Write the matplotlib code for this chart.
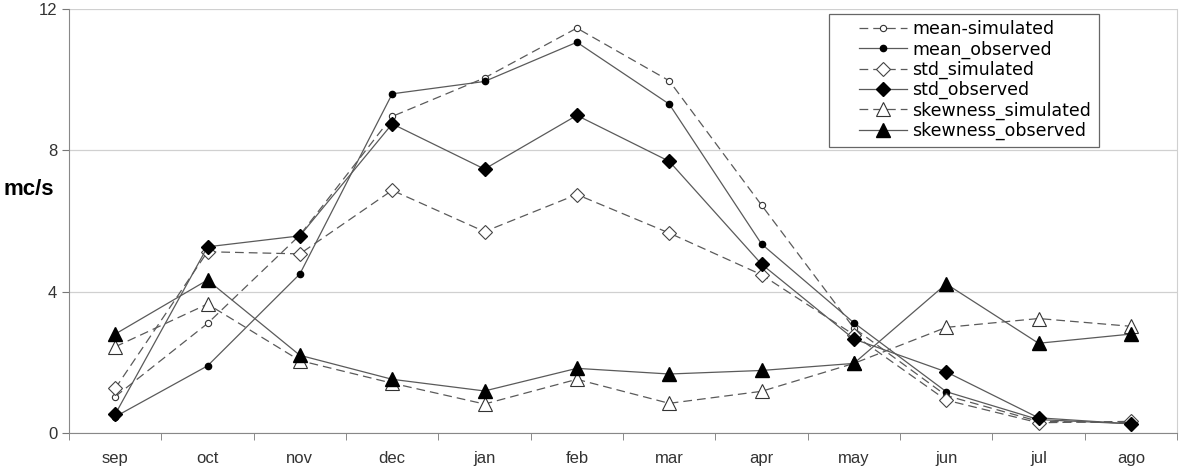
import matplotlib
matplotlib.use('Agg')
import matplotlib.pyplot as plt
from matplotlib.patches import Rectangle
import numpy as np

months = ['sep', 'oct', 'nov', 'dec', 'jan', 'feb', 'mar', 'apr', 'may', 'jun', 'jul', 'ago']

mean_simulated = [1.03, 3.1, 5.6, 8.96, 10.05, 11.46, 9.97, 6.45, 2.97, 1.06, 0.33, 0.29]
mean_observed = [0.46, 1.9, 4.5, 9.6, 9.95, 11.06, 9.31, 5.35, 3.12, 1.17, 0.38, 0.26]
std_simulated = [1.26, 5.13, 5.07, 6.87, 5.7, 6.75, 5.66, 4.48, 2.78, 0.93, 0.29, 0.33]
std_observed = [0.53, 5.27, 5.58, 8.75, 7.47, 8.99, 7.69, 4.78, 2.66, 1.73, 0.43, 0.26]
skew_simulated = [2.44, 3.65, 2.05, 1.41, 0.82, 1.52, 0.84, 1.18, 1.97, 2.99, 3.24, 3.02]
skew_observed = [2.8, 4.33, 2.2, 1.52, 1.19, 1.83, 1.67, 1.77, 1.97, 4.22, 2.54, 2.8]

plt.rcParams['font.family'] = ['Liberation Sans', 'DejaVu Sans']

fig = plt.figure(figsize=(11.94, 4.75), dpi=100)
ax = fig.add_axes([0.0578, 0.0884, 0.928, 0.8926])

x = np.arange(len(months))
line_col = '#5a5a5a'
dash = (0, (7, 4))

# simulated: dashed + open markers, observed: solid + filled markers
ax.plot(x, mean_simulated, color=line_col, lw=0.9, ls=dash, marker='o', ms=4.5,
        mfc='white', mec='#333333', mew=0.8, label='mean-simulated')
ax.plot(x, mean_observed, color=line_col, lw=0.9, marker='o', ms=4.5,
        mfc='black', mec='black', label='mean_observed')
ax.plot(x, std_simulated, color=line_col, lw=0.9, ls=dash, marker='D', ms=7.5,
        mfc='white', mec='#444444', mew=0.8, label='std_simulated')
ax.plot(x, std_observed, color=line_col, lw=0.9, marker='D', ms=7.5,
        mfc='black', mec='black', label='std_observed')
ax.plot(x, skew_simulated, color=line_col, lw=0.9, ls=dash, marker='^', ms=10,
        mfc='white', mec='#333333', mew=0.8, label='skewness_simulated')
ax.plot(x, skew_observed, color=line_col, lw=0.9, marker='^', ms=10,
        mfc='black', mec='black', label='skewness_observed')

ax.set_xlim(-0.5, 11.5)
ax.set_ylim(0, 12)
ax.set_yticks([0, 4, 8, 12])
ax.set_xticks(x)
ax.set_xticklabels(months)
ax.set_xticks(np.arange(-0.5, 12, 1), minor=True)
ax.tick_params(axis='x', which='major', length=0, pad=13, labelsize=12, labelcolor='#333333')
ax.tick_params(axis='x', which='minor', length=5, color='#777777', direction='out')
ax.tick_params(axis='y', length=5, color='#777777', labelsize=12, labelcolor='#333333')

ax.grid(axis='y', color='#d0d0d0', lw=0.9)
ax.set_axisbelow(True)
for s in ['left', 'bottom']:
    ax.spines[s].set_color('#888888')
ax.spines['right'].set_color('#d0d0d0')
ax.spines['top'].set_visible(False)

ax.set_ylabel('mc/s', rotation=0, fontsize=16, fontweight='bold', ha='center', va='center')
ax.yaxis.set_label_coords(-0.036, 0.575)

# Excel-style legend box, wider than its content
ax.add_patch(Rectangle((0.686, 0.675), 0.2436, 0.313, transform=ax.transAxes,
                       facecolor='white', edgecolor='#666666', lw=0.9, zorder=4))
leg = ax.legend(loc='upper right', bbox_to_anchor=(0.929, 0.99),
                prop={'family': 'DejaVu Sans', 'size': 12.5},
                frameon=False, handlelength=2.8, labelspacing=0.12,
                borderpad=0.4, handletextpad=0.3, borderaxespad=0)
leg.set_zorder(5)

fig.savefig('out.png', dpi=100)
